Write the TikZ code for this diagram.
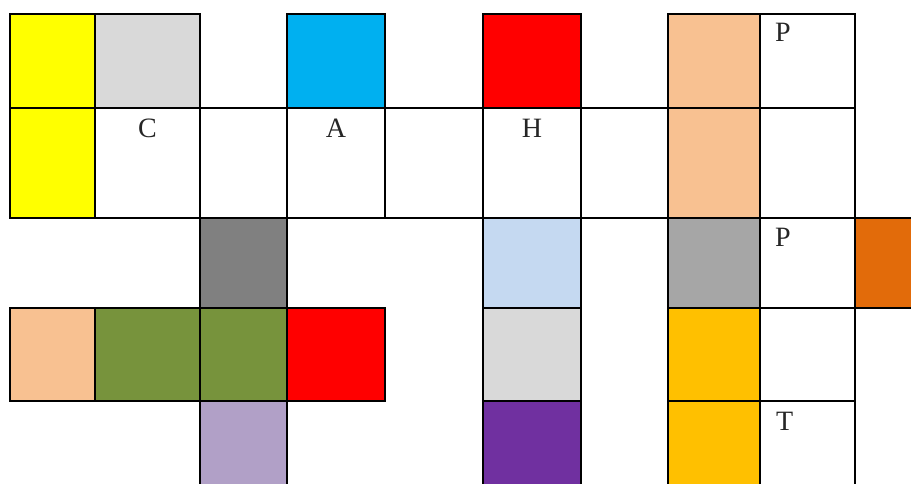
\documentclass[tikz,border=0pt]{standalone}
\usepackage{fontspec}
\setmainfont{Liberation Serif}
\definecolor{cyellow}{HTML}{FFFF00}
\definecolor{clgray}{HTML}{D9D9D9}
\definecolor{cblue}{HTML}{00B0F0}
\definecolor{cred}{HTML}{FF0000}
\definecolor{cpeach}{HTML}{F8C191}
\definecolor{cdgray}{HTML}{808080}
\definecolor{clblue}{HTML}{C5D9F1}
\definecolor{cmgray}{HTML}{A6A6A6}
\definecolor{corange}{HTML}{E26B0A}
\definecolor{cgreen}{HTML}{77933C}
\definecolor{cgold}{HTML}{FFC000}
\definecolor{clav}{HTML}{B1A0C7}
\definecolor{cpurple}{HTML}{7030A0}
\begin{document}
\begin{tikzpicture}[x=1pt,y=-1pt,
  cell/.style={draw=black, line width=1.7pt},
  lbl/.style={font=\fontsize{28}{30}\selectfont, inner sep=0pt, text=black!85}]
\useasboundingbox (0,0) rectangle (911,484);
\clip (0,0) rectangle (911,484);
% row 1
\path[cell, fill=cyellow] (10,14) rectangle (95,108);
\path[cell, fill=clgray] (95,14) rectangle (200,108);
\path[cell, fill=cblue] (287,14) rectangle (385,108);
\path[cell, fill=cred] (483,14) rectangle (581,108);
\path[cell, fill=cpeach] (668,14) rectangle (760,108);
\path[cell, fill=white] (760,14) rectangle (855,108);
% row 2
\path[cell, fill=cyellow] (10,108) rectangle (95,218);
\path[cell, fill=white] (95,108) rectangle (200,218);
\path[cell, fill=white] (200,108) rectangle (287,218);
\path[cell, fill=white] (287,108) rectangle (385,218);
\path[cell, fill=white] (385,108) rectangle (483,218);
\path[cell, fill=white] (483,108) rectangle (581,218);
\path[cell, fill=white] (581,108) rectangle (668,218);
\path[cell, fill=cpeach] (668,108) rectangle (760,218);
\path[cell, fill=white] (760,108) rectangle (855,218);
% row 3
\path[cell, fill=cdgray] (200,218) rectangle (287,308);
\path[cell, fill=clblue] (483,218) rectangle (581,308);
\path[cell, fill=cmgray] (668,218) rectangle (760,308);
\path[cell, fill=white] (760,218) rectangle (855,308);
\path[cell, fill=corange] (855,218) rectangle (925,308);
% row 4
\path[cell, fill=cpeach] (10,308) rectangle (95,401);
\path[cell, fill=cgreen] (95,308) rectangle (200,401);
\path[cell, fill=cgreen] (200,308) rectangle (287,401);
\path[cell, fill=cred] (287,308) rectangle (385,401);
\path[cell, fill=clgray] (483,308) rectangle (581,401);
\path[cell, fill=cgold] (668,308) rectangle (760,401);
\path[cell, fill=white] (760,308) rectangle (855,401);
% row 5
\path[cell, fill=clav] (200,401) rectangle (287,495);
\path[cell, fill=cpurple] (483,401) rectangle (581,495);
\path[cell, fill=cgold] (668,401) rectangle (760,495);
\path[cell, fill=white] (760,401) rectangle (855,495);
% labels
\node[lbl, anchor=base] (lc) at (147.5,138) {C};
\node[lbl, anchor=base] (la) at (336,138) {A};
\node[lbl, anchor=base] (lh) at (532,138) {H};
\node[lbl, anchor=base west] (lp1) at (775,42) {P};
\node[lbl, anchor=base west] (lp2) at (775,247) {P};
\node[lbl, anchor=base west] (lt) at (776,430) {T};
\end{tikzpicture}
\end{document}
